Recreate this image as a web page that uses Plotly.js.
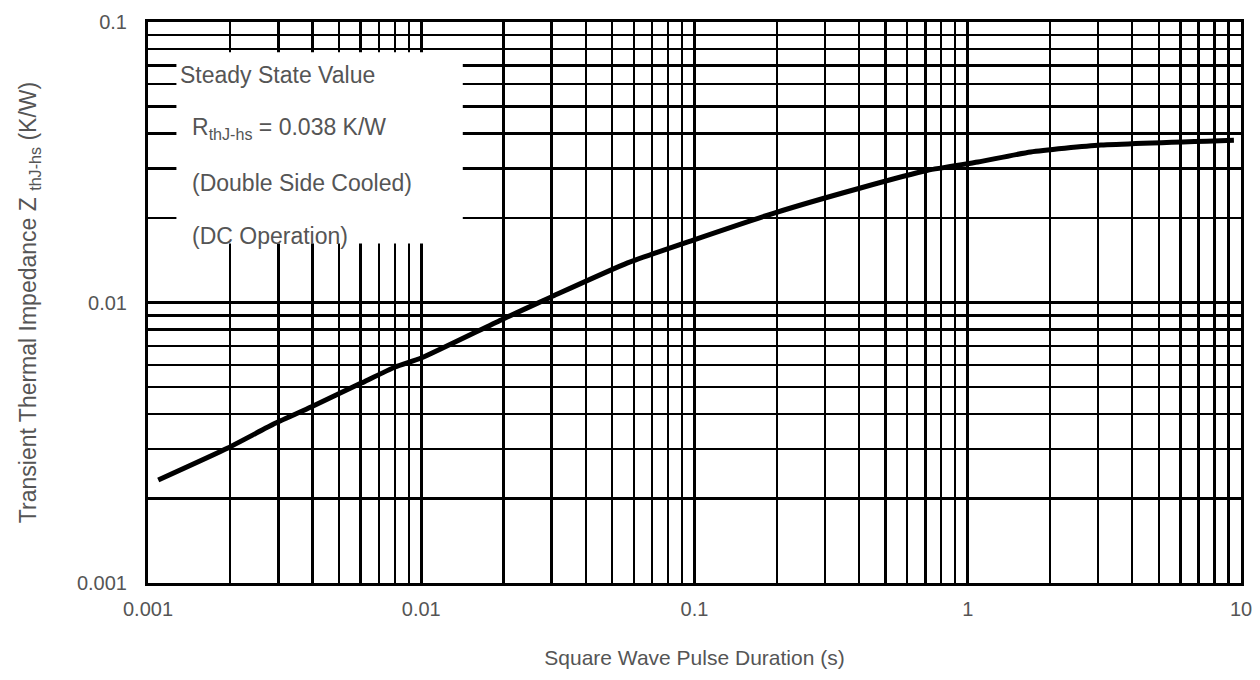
<!DOCTYPE html>
<html>
<head>
<meta charset="utf-8">
<script src="https://cdn.plot.ly/plotly-3.0.1.min.js"></script>
<style>html,body{margin:0;padding:0;background:#fff;}#chart{width:1260px;height:680px;}</style>
</head>
<body>
<div id="chart"></div>
<script>
// Pulse duration (s)
var pulseDuration = [0.00109, 0.00196, 0.00292, 0.00395, 0.00603, 0.00803, 0.01, 0.0196, 0.0299, 0.0569, 0.099, 0.1945, 0.405, 0.713, 1.09, 1.70, 3.07, 9.42];
// Transient thermal impedance Z thJ-hs (K/W)
var impedance =     [0.00233, 0.00303, 0.00371, 0.00424, 0.00516, 0.00589, 0.00634, 0.00867, 0.01047, 0.01384, 0.0167, 0.0208, 0.0256, 0.0296, 0.0317, 0.0344, 0.0364, 0.0379];

var xTickVals = [0.001, 0.01, 0.1, 1, 10];
var xTickText = ["0.001", "0.01", "0.1", "1", "10"];
var yTickVals = [0.001, 0.01, 0.1];
var yTickText = ["0.001", "0.01", "0.1"];

var noteLines = ["Steady State Value", "R<sub>thJ-hs</sub> = 0.038 K/W", "(Double Side Cooled)", "(DC Operation)"];

var fontFam = "Liberation Sans, Arial, sans-serif";
var txtColor = "#555";

var trace = {
  x: pulseDuration, y: impedance, type: "scatter", mode: "lines",
  line: {color: "#000", width: 5, shape: "spline", smoothing: 0.5},
  hoverinfo: "skip", showlegend: false
};

var axisCommon = {
  type: "log", showline: true, linecolor: "#000", linewidth: 3, mirror: true,
  showgrid: true, gridcolor: "#000", gridwidth: 3, zeroline: false,
  ticks: "", tickfont: {family: fontFam, size: 20, color: txtColor},
  minor: {dtick: "D1", showgrid: true, gridcolor: "#000", gridwidth: 2.4, ticks: ""}
};

var noteX = [0.027, 0.038, 0.038, 0.038];
var noteY = [0.906, 0.81, 0.713, 0.618];
var annotations = noteLines.map(function (t, i) {
  return {
    xref: "paper", yref: "paper", x: noteX[i], y: noteY[i], xanchor: "left", yanchor: "middle",
    align: "left", showarrow: false, text: t,
    font: {family: fontFam, size: 23, color: txtColor}
  };
});

var layout = {
  width: 1260, height: 680,
  margin: {l: 148, r: 19, t: 22, b: 97},
  paper_bgcolor: "#fff", plot_bgcolor: "#fff",
  xaxis: Object.assign({}, axisCommon, {
    range: [-3, 1], tickmode: "array", tickvals: xTickVals, ticktext: xTickText,
    ticklabelstandoff: 6,
    title: {text: "Square Wave Pulse Duration (s)", font: {family: fontFam, size: 21, color: txtColor}, standoff: 32}
  }),
  yaxis: Object.assign({}, axisCommon, {
    range: [-3, -1], tickmode: "array", tickvals: yTickVals, ticktext: yTickText,
    ticklabelstandoff: 14,
    title: {text: "Transient Thermal Impedance Z <sub>thJ-hs</sub> (K/W)", font: {family: fontFam, size: 23, color: txtColor}, standoff: 34}
  }),
  shapes: [{
    type: "rect", xref: "paper", yref: "paper",
    x0: 0.026, x1: 0.288, y0: 0.605, y1: 0.946,
    fillcolor: "#fff", line: {width: 0}, layer: "above"
  }],
  annotations: annotations
};

Plotly.newPlot("chart", [trace], layout, {staticPlot: true, displayModeBar: false});
</script>
</body>
</html>
